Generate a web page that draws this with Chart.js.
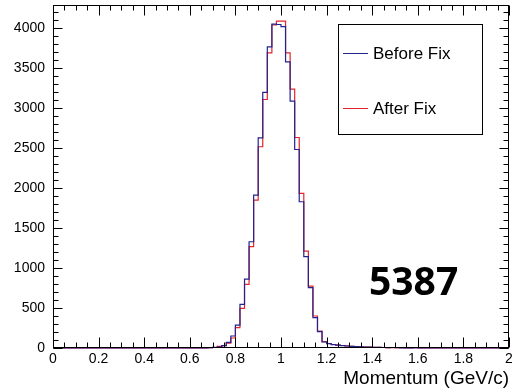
<!DOCTYPE html>
<html>
<head>
<meta charset="utf-8">
<script src="https://cdn.jsdelivr.net/npm/chart.js@4.4.1/dist/chart.umd.min.js"></script>
<style>
  html, body { margin: 0; padding: 0; background: #fff; }
  #wrap { position: relative; width: 512px; height: 390px; }
</style>
</head>
<body>
<div id="wrap"><canvas id="momentum" width="512" height="390"></canvas></div>
<script>
// momentum spectrum, 100 bins of 0.02 GeV/c between 0 and 2
var binLow = 0;
var binWidth = 0.02;

var beforeFix = [
  0, 0, 0, 0, 0, 0, 0, 0, 0, 0,
  0, 0, 0, 0, 0, 0, 0, 0, 0, 0,
  0, 0, 0, 0, 0, 0, 0, 0, 0, 0,
  0, 0, 0, 0, 2, 4, 7, 12, 30, 70,
  150, 287, 546, 862, 1329, 1912, 2629, 3196, 3767, 4050,
  4046, 4020, 3579, 3088, 2483, 1829, 1142, 754, 379, 204,
  75, 54, 42, 35, 30, 25, 20, 17, 14, 12,
  10, 8, 7, 6, 5, 6, 3, 2, 2, 1,
  0, 0, 0, 0, 0, 0, 0, 0, 0, 0,
  0, 0, 0, 0, 0, 0, 0, 0, 0, 0
];

var afterFix = [
  0, 0, 0, 0, 0, 0, 0, 0, 0, 0,
  0, 0, 0, 0, 0, 0, 0, 0, 0, 0,
  0, 0, 0, 0, 0, 0, 0, 0, 0, 0,
  0, 0, 0, 0, 1, 3, 6, 20, 30, 60,
  125, 254, 496, 796, 1267, 1850, 2517, 3108, 3692, 4040,
  4088, 4088, 3692, 3238, 2633, 1933, 1212, 775, 400, 210,
  80, 56, 44, 36, 31, 26, 21, 18, 15, 12,
  10, 9, 7, 6, 5, 5, 4, 3, 2, 1,
  6, 1, 0, 0, 0, 0, 0, 0, 0, 0,
  0, 0, 0, 0, 0, 0, 0, 0, 0, 0
];

var seriesNames = ["Before Fix", "After Fix"];
var seriesColors = ["#23238f", "#e3262b"];
var xTitle = "Momentum (GeV/c)";
var xTicks = [0, 0.2, 0.4, 0.6, 0.8, 1, 1.2, 1.4, 1.6, 1.8, 2];
var yTicks = [0, 500, 1000, 1500, 2000, 2500, 3000, 3500, 4000];
var xMin = 0, xMax = 2;
var yMax = 4290;
var stamp = "5387";

var axisFont = "'Liberation Sans', Arial, Helvetica, sans-serif";
Chart.defaults.font.family = axisFont;
Chart.defaults.color = "#000";

// left bin edges plus the closing edge, drawn as step lines
function toSteps(vals) {
  var pts = [];
  for (var i = 0; i < vals.length; i++) {
    pts.push({ x: +(binLow + i * binWidth).toFixed(4), y: vals[i] });
  }
  pts.push({ x: +(binLow + vals.length * binWidth).toFixed(4), y: 0 });
  return pts;
}

function plainLabel(v) { return String(v); }

// ROOT-like frame: box with ticks pointing inwards on all four sides
var frameTicks = {
  id: 'frameTicks',
  afterDatasetsDraw: function(chart) {
    var ctx = chart.ctx, a = chart.chartArea;
    var xs = chart.scales.x, ys = chart.scales.y;
    var L = Math.round(a.left) + 0.5, R = Math.round(a.right) - 0.5;
    var T = Math.round(a.top) + 0.5, B = Math.round(a.bottom) - 0.5;
    ctx.save();
    ctx.strokeStyle = "#000";
    ctx.lineWidth = 1;
    ctx.strokeRect(L, T, R - L, B - T);
    ctx.beginPath();
    for (var i = 0; i <= 40; i++) {
      var v = xMin + i * 0.05;
      var px = Math.round(xs.getPixelForValue(v)) + 0.5;
      var len = (i % 4 === 0) ? 10 : 5;
      ctx.moveTo(px, B); ctx.lineTo(px, B - len);
      ctx.moveTo(px, T); ctx.lineTo(px, T + len);
    }
    for (var j = 0; j * 100 <= yMax; j++) {
      var py = Math.round(ys.getPixelForValue(j * 100)) + 0.5;
      var ylen = (j % 5 === 0) ? 9 : 5;
      ctx.moveTo(L, py); ctx.lineTo(L + ylen, py);
      ctx.moveTo(R, py); ctx.lineTo(R - ylen, py);
    }
    ctx.stroke();
    ctx.restore();
  }
};

// boxed legend in the upper right and the run number
var boxLegend = {
  id: 'boxLegend',
  afterDraw: function(chart) {
    var ctx = chart.ctx;
    ctx.save();
    ctx.strokeStyle = "#000";
    ctx.lineWidth = 1;
    ctx.strokeRect(338.5, 24.5, 144, 110);
    var rows = [53, 108];
    ctx.font = "17px " + axisFont;
    ctx.textBaseline = "middle";
    ctx.textAlign = "left";
    for (var k = 0; k < seriesNames.length; k++) {
      ctx.strokeStyle = seriesColors[k];
      ctx.beginPath();
      ctx.moveTo(343, rows[k] + 0.5);
      ctx.lineTo(368, rows[k] + 0.5);
      ctx.stroke();
      ctx.fillStyle = "#000";
      ctx.fillText(seriesNames[k], 373, rows[k] + 1);
    }
    ctx.font = "bold 39px 'Noto Sans', sans-serif";
    ctx.textBaseline = "alphabetic";
    ctx.textAlign = "left";
    ctx.fillStyle = "#000";
    ctx.fillText(stamp, 369, 295);
    ctx.restore();
  }
};

new Chart(document.getElementById("momentum"), {
  type: 'line',
  data: {
    datasets: [{
      label: seriesNames[0],
      data: toSteps(beforeFix),
      borderColor: seriesColors[0],
      borderWidth: 1.2,
      stepped: 'after',
      pointRadius: 0,
      fill: false,
      clip: false
    }, {
      label: seriesNames[1],
      data: toSteps(afterFix),
      borderColor: seriesColors[1],
      borderWidth: 1.2,
      stepped: 'after',
      pointRadius: 0,
      fill: false,
      clip: false
    }]
  },
  options: {
    responsive: false,
    devicePixelRatio: 1,
    animation: false,
    layout: { padding: { top: 5, right: 3, bottom: 0, left: 0 } },
    plugins: {
      legend: { display: false },
      tooltip: { enabled: false }
    },
    scales: {
      x: {
        type: 'linear',
        min: xMin,
        max: xMax,
        grid: { display: false, drawTicks: false },
        border: { display: false },
        ticks: {
          padding: 3,
          maxRotation: 0,
          autoSkip: false,
          font: { size: 14 },
          callback: plainLabel
        },
        afterBuildTicks: function(s) {
          s.ticks = xTicks.map(function(v) { return { value: v }; });
        },
        title: {
          display: true,
          text: xTitle,
          align: 'end',
          font: { size: 19 },
          padding: { top: 0, bottom: 0 }
        },
        afterFit: function(s) { s.height = 42; s.paddingLeft = 0; s.paddingRight = 0; }
      },
      y: {
        min: 0,
        max: yMax,
        grid: { display: false, drawTicks: false },
        border: { display: false },
        ticks: {
          padding: 8,
          autoSkip: false,
          font: { size: 14 },
          callback: plainLabel
        },
        afterBuildTicks: function(s) {
          s.ticks = yTicks.map(function(v) { return { value: v }; });
        },
        afterFit: function(s) { s.width = 53; s.paddingTop = 0; s.paddingBottom = 0; }
      }
    }
  },
  plugins: [frameTicks, boxLegend]
});
</script>
</body>
</html>
